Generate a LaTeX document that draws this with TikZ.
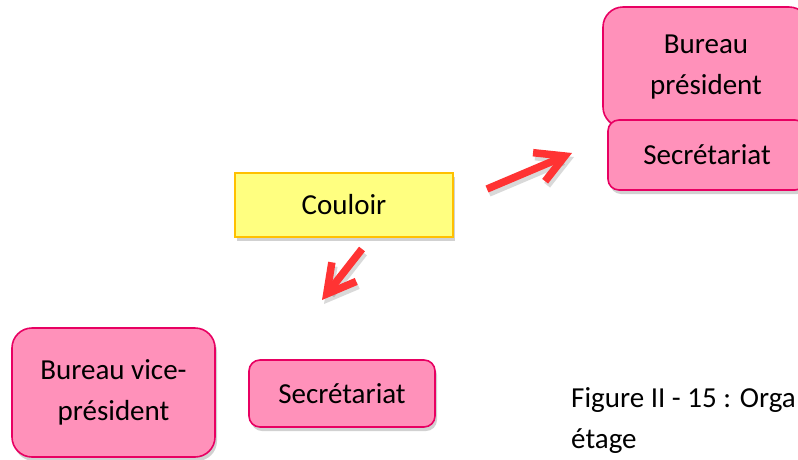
\documentclass[tikz,border=0pt]{standalone}
\usepackage{fontspec}
\setmainfont{Carlito}
\usetikzlibrary{arrows.meta,shadows}
\definecolor{roomfill}{RGB}{255,145,186}
\definecolor{roomline}{RGB}{232,0,98}
\definecolor{hallfill}{RGB}{255,255,128}
\definecolor{hallline}{RGB}{255,192,0}
\definecolor{arrowred}{RGB}{255,51,51}
\begin{document}
\begin{tikzpicture}[x=1pt,y=-1pt,
  boxshadow/.style={drop shadow={shadow xshift=2pt, shadow yshift=-4pt,
    opacity=0.3, fill=black!60}},
  room/.style={draw=roomline, fill=roomfill, line width=1.6pt, align=center,
    inner sep=0pt, font=\fontsize{29}{41}\selectfont, boxshadow},
  hall/.style={draw=hallline, fill=hallfill, line width=1.6pt, align=center,
    inner sep=0pt, font=\fontsize{29}{41}\selectfont, boxshadow},
  arrowtip/.style={-{Straight Barb[length=28pt, width=31pt, line width=7.5pt]}},
  flow/.style={draw=arrowred, line width=7.5pt, arrowtip},
  flowshadow/.style={draw=black, opacity=0.15, line width=7.5pt, arrowtip,
    transform canvas={shift={(2pt,-4pt)}}},
]
\useasboundingbox (0,0) rectangle (798,459);
\clip (0,0) rectangle (798,459);

% upper wing: president's office with its secretariat in front
\node[room, rounded corners=20pt, minimum width=206pt, minimum height=120pt]
  (bp) at (706,67) {Bureau\\président};
\node[room, rounded corners=11pt, minimum width=198pt, minimum height=70pt]
  (sp) at (707,155) {Secrétariat};

% corridor
\node[hall, minimum width=218pt, minimum height=64pt] (hall) at (344,205) {Couloir};

% lower wing: vice-president's office and secretariat
\node[room, rounded corners=20pt, minimum width=203pt, minimum height=129pt]
  (bvp) at (113.5,392.5) {Bureau vice-\\président};
\node[room, rounded corners=11pt, minimum width=186pt, minimum height=67pt]
  (svp) at (342,393.5) {Secrétariat};

% direction arrows out of the corridor
\coordinate (a1s) at (487,189);
\coordinate (a1e) at (572,153);
\coordinate (a2s) at (362,249);
\coordinate (a2e) at (322,300);
\draw[flowshadow] (a1s) -- (a1e);
\draw[flowshadow] (a2s) -- (a2e);
\draw[flow] (a1s) -- (a1e);
\draw[flow] (a2s) -- (a2e);

% caption
\node[anchor=north west, align=left, inner sep=0pt,
  font=\fontsize{29}{41}\selectfont] (cap) at (571,387)
  {Figure II - 15 : Orga\\étage};
\end{tikzpicture}
\end{document}
